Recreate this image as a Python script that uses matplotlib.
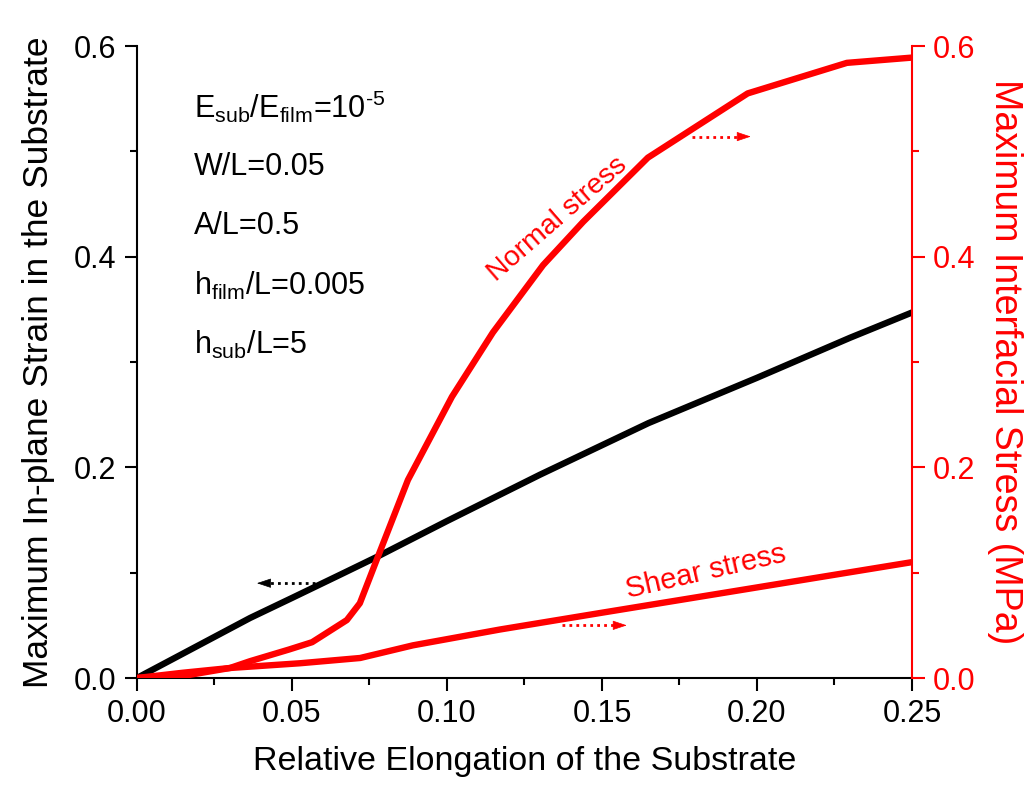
import numpy as np
import matplotlib.pyplot as plt
from matplotlib.ticker import MultipleLocator

plt.rcParams['font.family'] = ['Liberation Sans', 'DejaVu Sans']
plt.rcParams['mathtext.fontset'] = 'custom'
plt.rcParams['mathtext.rm'] = 'Liberation Sans'

# strain in substrate (left axis)
strain_x = [0.0, 0.0365, 0.05, 0.0655, 0.0774, 0.10, 0.13, 0.165, 0.20, 0.23, 0.25]
strain_y = [0.0, 0.057, 0.076, 0.098, 0.115, 0.149, 0.193, 0.242, 0.285, 0.323, 0.347]

# normal stress (right axis, MPa)
normal_x = [0.0, 0.015, 0.030, 0.0365, 0.049, 0.0565, 0.0677, 0.0719, 0.0777, 0.0874,
            0.1016, 0.1148, 0.131, 0.1439, 0.1648, 0.197, 0.229, 0.25]
normal_y = [0.0, 0.002, 0.0095, 0.016, 0.027, 0.034, 0.055, 0.071, 0.115, 0.188,
            0.267, 0.328, 0.392, 0.433, 0.494, 0.555, 0.584, 0.589]

# shear stress (right axis, MPa)
shear_x = [0.0, 0.0148, 0.030, 0.0526, 0.072, 0.089, 0.117, 0.15, 0.20, 0.25]
shear_y = [0.0, 0.005, 0.0095, 0.014, 0.019, 0.031, 0.046, 0.062, 0.086, 0.110]

# hyphen (U+2010) in the exponent, so it doesn't turn into a long minus
params = ['E$_{\\mathregular{sub}}$/E$_{\\mathregular{film}}$=10$^{\\mathregular{\u20105}}$',
          'W/L=0.05',
          'A/L=0.5',
          r'h$_{\mathregular{film}}$/L=0.005',
          r'h$_{\mathregular{sub}}$/L=5']

fig = plt.figure(figsize=(10.29, 7.85), dpi=100)
ax = fig.add_axes([0.1331, 0.1363, 0.7532, 0.8051])
ax2 = ax.twinx()

ax.plot(strain_x, strain_y, color='black', lw=4.6, zorder=3)
ax2.plot(normal_x, normal_y, color='red', lw=4.6, zorder=3)
ax2.plot(shear_x, shear_y, color='red', lw=4.6, zorder=3)

ax.set_xlim(0, 0.25)
ax.set_ylim(0, 0.6)
ax2.set_ylim(0, 0.6)

ax.xaxis.set_major_locator(MultipleLocator(0.05))
ax.xaxis.set_minor_locator(MultipleLocator(0.025))
ax.yaxis.set_major_locator(MultipleLocator(0.2))
ax.yaxis.set_minor_locator(MultipleLocator(0.1))
ax2.yaxis.set_major_locator(MultipleLocator(0.2))
ax2.yaxis.set_minor_locator(MultipleLocator(0.1))
ax.xaxis.set_major_formatter(plt.FormatStrFormatter('%.2f'))
ax.yaxis.set_major_formatter(plt.FormatStrFormatter('%.1f'))
ax2.yaxis.set_major_formatter(plt.FormatStrFormatter('%.1f'))

for a in (ax, ax2):
    a.spines['top'].set_visible(False)
    for s in a.spines.values():
        s.set_linewidth(1.5)
ax.spines['right'].set_visible(False)
ax2.spines['left'].set_visible(False)
ax2.spines['bottom'].set_visible(False)
ax2.spines['right'].set_color('red')

ax.tick_params(which='major', direction='out', length=9, width=1.5, labelsize=22, pad=6)
ax.tick_params(which='minor', direction='out', length=5, width=1.5)
ax2.tick_params(which='major', direction='out', length=9, width=1.5, labelsize=22,
                colors='red', pad=6)
ax2.tick_params(which='minor', direction='out', length=5, width=1.5, colors='red')

ax.set_xlabel('Relative Elongation of the Substrate', fontsize=24.5, labelpad=12)
ax.set_ylabel('Maximum In-plane Strain in the Substrate', fontsize=25.5, labelpad=13)
ax2.set_ylabel('Maximum Interfacial Stress (MPa)', fontsize=27, color='red',
               rotation=270, labelpad=34)

# parameter block
for i, t in enumerate(params):
    ax.text(0.0185, 0.542 - i * 0.0565, t, fontsize=22, va='center', ha='left')

ax2.text(0.1358, 0.436, 'Normal stress', fontsize=20.5, color='red', rotation=41,
         rotation_mode='anchor', ha='center', va='center')
ax2.text(0.1835, 0.1005, 'Shear stress', fontsize=21, color='red', rotation=13,
         rotation_mode='anchor', ha='center', va='center')


# dotted arrows showing which axis each curve belongs to
def dotted_arrow(a, x0, x1, y, c):
    d = 0.004 if x1 > x0 else -0.004
    a.plot([x0, x1 - d], [y, y], color=c, lw=2, ls=(0, (1, 1.5)), zorder=4)
    a.annotate('', xy=(x1, y), xytext=(x1 - d, y),
               arrowprops=dict(arrowstyle='-|>,head_length=0.9,head_width=0.3',
                               color=c, lw=0.5, shrinkA=0, shrinkB=0), zorder=4)


dotted_arrow(ax, 0.0574, 0.0387, 0.090, 'black')
dotted_arrow(ax2, 0.179, 0.198, 0.514, 'red')
dotted_arrow(ax2, 0.137, 0.158, 0.050, 'red')

fig.savefig('out.png', dpi=100)
